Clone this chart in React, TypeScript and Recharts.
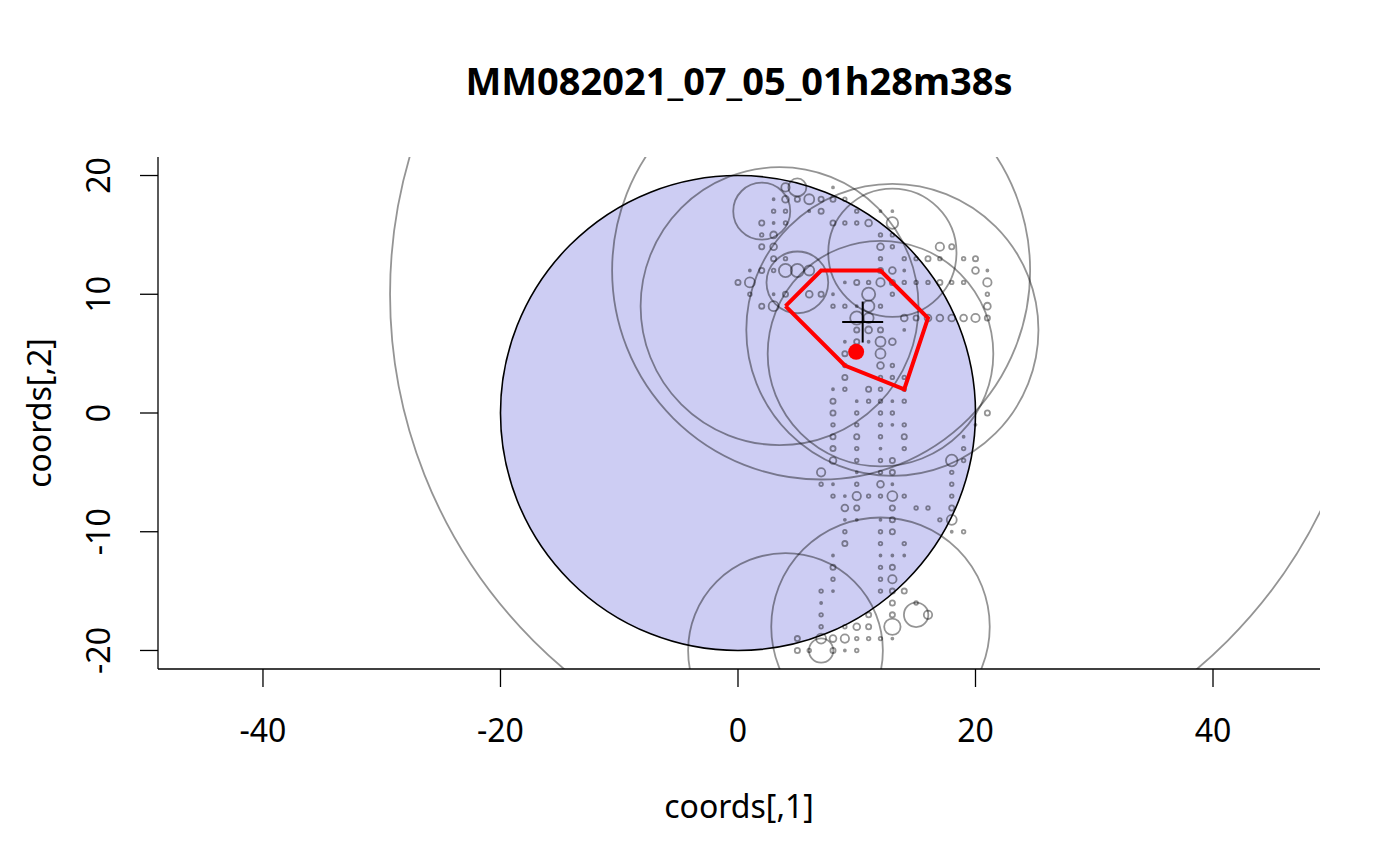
import React from 'react'
import { ScatterChart, Scatter, XAxis, YAxis } from 'recharts'

const W = 1400
const H = 866
const M = { top: 157, right: 80, bottom: 0, left: 0 }
const Y_AXIS_W = 158
const X_AXIS_H = 197

const xDomain = [-48.84, 49.01]
const yDomain = [-21.56, 21.56]
const xTicks = [-40, -20, 0, 20, 40]
const yTicks = [-20, -10, 0, 10, 20]

const title = 'MM082021_07_05_01h28m38s'
const xLabel = 'coords[,1]'
const yLabel = 'coords[,2]'

// grid cells [x, y, weight]
const cells: number[][] = [
  [4, 19, 5], [5, 19, 11], [8, 19, 1],
  [3, 18, 1], [4, 18, 4], [5, 18, 3], [6, 18, 6], [7, 18, 3], [8, 18, 3], [9, 18, 2],
  [3, 17, 2], [4, 17, 2], [6, 17, 1], [7, 17, 3], [10, 17, 2], [12, 17, 1], [13, 17, 1],
  [2, 16, 3], [3, 16, 1], [4, 16, 2], [8, 16, 3], [9, 16, 2], [10, 16, 2], [11, 16, 4], [13, 16, 7],
  [2, 15, 2], [3, 15, 4], [12, 15, 2], [13, 15, 2],
  [2, 14, 3], [3, 14, 4], [12, 14, 4], [13, 14, 2], [17, 14, 5], [18, 14, 3],
  [3, 13, 3], [4, 13, 2], [12, 13, 2], [14, 13, 2], [15, 13, 2], [16, 13, 3], [17, 13, 2], [19, 13, 2], [20, 13, 3],
  [1, 12, 1], [2, 12, 3], [3, 12, 2], [4, 12, 8], [5, 12, 8], [6, 12, 6], [12, 12, 3], [13, 12, 4], [14, 12, 1], [20, 12, 4], [21, 12, 1],
  [0, 11, 3], [1, 11, 6], [9, 11, 1], [10, 11, 3], [11, 11, 2], [12, 11, 5], [13, 11, 3], [14, 11, 2], [15, 11, 2], [16, 11, 2], [17, 11, 3], [18, 11, 2], [19, 11, 2], [21, 11, 5],
  [1, 10, 2], [3, 10, 1], [4, 10, 3], [6, 10, 4], [7, 10, 3], [8, 10, 1], [11, 10, 8], [13, 10, 2], [21, 10, 2],
  [2, 9, 3], [3, 9, 6], [8, 9, 2], [9, 9, 2], [10, 9, 1], [11, 9, 7], [12, 9, 2], [21, 9, 4],
  [10, 8, 8], [11, 8, 6], [14, 8, 4], [15, 8, 3], [16, 8, 4], [17, 8, 4], [18, 8, 4], [19, 8, 4], [20, 8, 5], [21, 8, 3],
  [10, 7, 3], [11, 7, 4], [12, 7, 3], [14, 7, 1],
  [9, 6, 1], [10, 6, 3], [11, 6, 1], [12, 6, 6], [13, 6, 4],
  [9, 5, 3], [12, 5, 6],
  [9, 4, 2], [12, 4, 4], [13, 4, 2],
  [9, 3, 3], [12, 3, 2], [13, 3, 2], [14, 3, 2],
  [8, 2, 1], [9, 2, 2], [11, 2, 3], [12, 2, 2], [14, 2, 2],
  [8, 1, 3], [10, 1, 1], [11, 1, 2], [12, 1, 2], [13, 1, 1], [14, 1, 2],
  [8, 0, 3], [10, 0, 2], [12, 0, 2], [13, 0, 2], [21, 0, 3],
  [8, -1, 2], [10, -1, 2], [12, -1, 2], [13, -1, 1], [14, -1, 2], [20, -1, 1],
  [8, -2, 3], [10, -2, 3], [12, -2, 2], [14, -2, 3], [19, -2, 1],
  [8, -3, 3], [10, -3, 2], [12, -3, 1], [14, -3, 2], [19, -3, 2],
  [8, -4, 4], [10, -4, 2], [12, -4, 2], [13, -4, 3], [18, -4, 7], [19, -4, 2],
  [7, -5, 5], [10, -5, 1], [12, -5, 2], [13, -5, 3], [18, -5, 2],
  [7, -6, 2], [8, -6, 1], [10, -6, 2], [12, -6, 4], [13, -6, 1], [18, -6, 2],
  [8, -7, 2], [9, -7, 1], [10, -7, 5], [11, -7, 2], [12, -7, 2], [13, -7, 6], [14, -7, 2], [18, -7, 2],
  [9, -8, 4], [10, -8, 3], [13, -8, 3], [15, -8, 2], [16, -8, 2], [18, -8, 3],
  [9, -9, 1], [10, -9, 1], [12, -9, 1], [13, -9, 3], [17, -9, 2], [18, -9, 6],
  [9, -10, 2], [12, -10, 2], [13, -10, 3], [18, -10, 1], [19, -10, 2],
  [9, -11, 3], [12, -11, 2], [14, -11, 2],
  [8, -12, 1], [12, -12, 1], [13, -12, 1], [14, -12, 1],
  [8, -13, 3], [12, -13, 2], [13, -13, 3],
  [8, -14, 2], [12, -14, 2], [13, -14, 5],
  [7, -15, 2], [8, -15, 1], [12, -15, 2], [13, -15, 3], [14, -15, 3],
  [7, -16, 1], [13, -16, 3], [15, -16, 2],
  [7, -17, 2], [11, -17, 3], [13, -17, 3], [15, -17, 15], [16, -17, 5],
  [7, -18, 2], [9, -18, 2], [10, -18, 4], [11, -18, 3], [13, -18, 10],
  [5, -19, 3], [7, -19, 6], [8, -19, 4], [9, -19, 5], [10, -19, 2], [11, -19, 2], [12, -19, 2], [13, -19, 1],
  [5, -20, 3], [6, -20, 2], [7, -20, 15], [8, -20, 3], [9, -20, 1], [10, -20, 2],
]

// rings: centre and radius in coordinate units
const ringX = [12, 7, 3.5, 13, 12, 13, 2, 5, 4, 12]
const ringY = [10, 12, 9, 7, 5, 13.5, 17, 11, -20, -18]
const ringR = [41.3, 17.6, 11.7, 12.3, 9.5, 5.4, 2.4, 2.6, 8.2, 9.2]

// main disc
const discX = [0]
const discY = [0]
const discR = [20]

// hull polygon
const hullX = [4, 7, 12, 16, 14, 9, 4]
const hullY = [9, 12, 12, 8, 2, 4, 9]

const centroid = { x: 9.95, y: 5.15 }
const cross = { x: 10.5, y: 7.66 }

const FONT = '"Noto Sans", "Open Sans", sans-serif'
const PPU = (W - M.left - M.right - Y_AXIS_W) / (xDomain[1] - xDomain[0])
const GREY = 'rgba(0,0,0,0.42)'

const cellData = cells.map(([x, y, w]) => ({ x, y, w }))
const ringData = ringX.map((x, i) => ({ x, y: ringY[i], r: ringR[i] }))
const discData = discX.map((x, i) => ({ x, y: discY[i], r: discR[i] }))
const hullData = hullX.map((x, i) => ({ x, y: hullY[i] }))

function XTick({ x, y, payload }: any) {
  return (
    <text x={x} y={y + 55} textAnchor="middle" fontSize={32} fontFamily={FONT} fill="#000">
      {payload.value}
    </text>
  )
}

function YTick({ x, y, payload }: any) {
  const bx = x - 30
  return (
    <text x={bx} y={y} transform={`rotate(-90, ${bx}, ${y})`} textAnchor="middle" fontSize={32} fontFamily={FONT} fill="#000">
      {payload.value}
    </text>
  )
}

export default function App() {
  return (
    <div style={{ position: 'absolute', left: 0, top: 0, width: W, height: H, background: '#fff', fontFamily: FONT }}>
      <ScatterChart width={W} height={H} margin={M}>
        <XAxis type="number" dataKey="x" domain={xDomain} ticks={xTicks} allowDataOverflow height={X_AXIS_H}
          axisLine={{ stroke: '#000', strokeWidth: 1.3 }} tickLine={{ stroke: '#000', strokeWidth: 1.3 }} tickSize={18} tickMargin={0}
          tick={<XTick />} interval={0} />
        <XAxis xAxisId="top" orientation="top" type="number" domain={xDomain} allowDataOverflow height={0}
          axisLine={{ stroke: '#000', strokeWidth: 1.3 }} tick={false} tickLine={false} />
        <YAxis type="number" dataKey="y" domain={yDomain} ticks={yTicks} allowDataOverflow width={Y_AXIS_W}
          axisLine={{ stroke: '#000', strokeWidth: 1.3 }} tickLine={{ stroke: '#000', strokeWidth: 1.3 }} tickSize={18} tickMargin={0}
          tick={<YTick />} interval={0} />
        <YAxis yAxisId="right" orientation="right" type="number" domain={yDomain} allowDataOverflow width={0}
          axisLine={{ stroke: '#000', strokeWidth: 1.3 }} tick={false} tickLine={false} />
        <Scatter data={discData} isAnimationActive={false}
          shape={(p: any) => <circle cx={p.cx} cy={p.cy} r={p.payload.r * PPU} fill="#cdcdf3" stroke="#000" strokeWidth={1.6} />} />
        <Scatter data={ringData} isAnimationActive={false}
          shape={(p: any) => <circle cx={p.cx} cy={p.cy} r={p.payload.r * PPU} fill="none" stroke={GREY} strokeWidth={1.8} />} />
        <Scatter data={cellData} isAnimationActive={false}
          shape={(p: any) => <circle cx={p.cx} cy={p.cy} r={0.8 * p.payload.w + 0.2} fill="none" stroke={GREY} strokeWidth={1.8} />} />
        <Scatter data={hullData} isAnimationActive={false} line={{ stroke: '#ff0000', strokeWidth: 4 }} lineJointType="linear"
          shape={() => <g />} />
        <Scatter data={[centroid]} isAnimationActive={false}
          shape={(p: any) => <circle cx={p.cx} cy={p.cy} r={8} fill="#ff0000" />} />
        <Scatter data={[cross]} isAnimationActive={false}
          shape={(p: any) => (
            <g stroke="#000" strokeWidth={2}>
              <line x1={p.cx - 20.5} y1={p.cy} x2={p.cx + 20.5} y2={p.cy} />
              <line x1={p.cx} y1={p.cy - 20.5} x2={p.cx} y2={p.cy + 20.5} />
            </g>
          )} />
      </ScatterChart>
      <div style={{ position: 'absolute', left: 739, top: 80, transform: 'translate(-50%, -50%)', fontSize: 38, fontWeight: 700, whiteSpace: 'nowrap' }}>{title}</div>
      <div style={{ position: 'absolute', left: 739, top: 805, transform: 'translate(-50%, -50%)', fontSize: 32, whiteSpace: 'nowrap' }}>{xLabel}</div>
      <div style={{ position: 'absolute', left: 38, top: 413, transform: 'translate(-50%, -50%) rotate(-90deg)', fontSize: 32, whiteSpace: 'nowrap' }}>{yLabel}</div>
    </div>
  )
}
